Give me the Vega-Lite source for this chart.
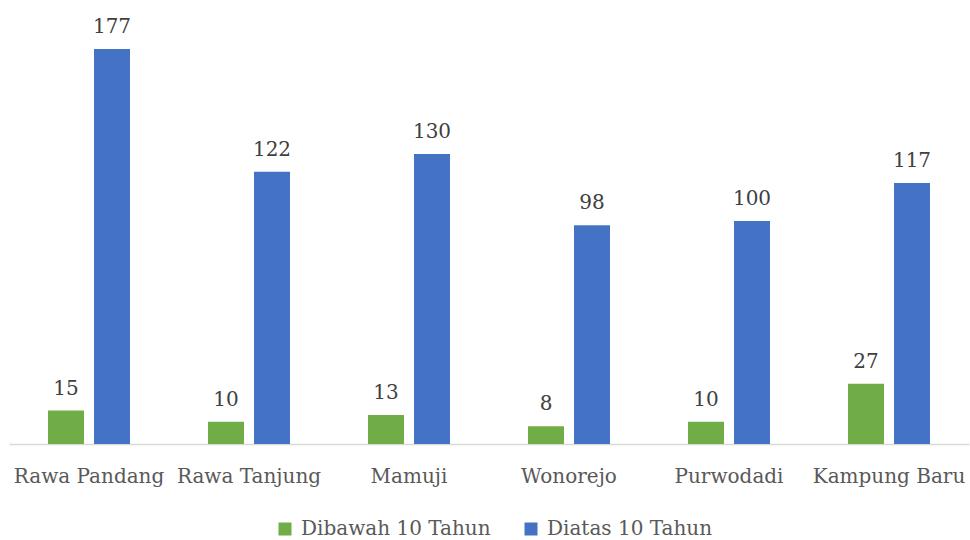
{
  "$schema": "https://vega.github.io/schema/vega-lite/v6.json",
  "autosize": "none",
  "width": 960,
  "height": 444,
  "padding": {"left": 9, "top": 0, "right": 1, "bottom": 96},
  "background": "white",
  "config": {"view": {"stroke": null}},
  "data": {
    "values": [
      {"desa": "Rawa Pandang", "kelompok": "Dibawah 10 Tahun", "jumlah": 15},
      {"desa": "Rawa Pandang", "kelompok": "Diatas 10 Tahun", "jumlah": 177},
      {"desa": "Rawa Tanjung", "kelompok": "Dibawah 10 Tahun", "jumlah": 10},
      {"desa": "Rawa Tanjung", "kelompok": "Diatas 10 Tahun", "jumlah": 122},
      {"desa": "Mamuji", "kelompok": "Dibawah 10 Tahun", "jumlah": 13},
      {"desa": "Mamuji", "kelompok": "Diatas 10 Tahun", "jumlah": 130},
      {"desa": "Wonorejo", "kelompok": "Dibawah 10 Tahun", "jumlah": 8},
      {"desa": "Wonorejo", "kelompok": "Diatas 10 Tahun", "jumlah": 98},
      {"desa": "Purwodadi", "kelompok": "Dibawah 10 Tahun", "jumlah": 10},
      {"desa": "Purwodadi", "kelompok": "Diatas 10 Tahun", "jumlah": 100},
      {"desa": "Kampung Baru", "kelompok": "Dibawah 10 Tahun", "jumlah": 27},
      {"desa": "Kampung Baru", "kelompok": "Diatas 10 Tahun", "jumlah": 117}
    ]
  },
  "encoding": {
    "x": {
      "field": "desa",
      "type": "nominal",
      "sort": null,
      "scale": {"paddingInner": 0.4875, "paddingOuter": 0.24375},
      "axis": {
        "title": null,
        "labelAngle": 0,
        "ticks": false,
        "domainColor": "#d9d9d9",
        "domainWidth": 1.5,
        "labelFont": "DejaVu Serif",
        "labelFontSize": 20,
        "labelColor": "#595959",
        "labelPadding": 22,
        "labelLimit": 0
      }
    },
    "xOffset": {
      "field": "kelompok",
      "type": "nominal",
      "sort": ["Dibawah 10 Tahun", "Diatas 10 Tahun"],
      "scale": {"paddingInner": 0.2174, "paddingOuter": 0}
    },
    "y": {
      "field": "jumlah",
      "type": "quantitative",
      "scale": {"domain": [0, 199], "nice": false},
      "axis": null
    }
  },
  "layer": [
    {
      "mark": {"type": "bar"},
      "encoding": {
        "color": {
          "field": "kelompok",
          "type": "nominal",
          "sort": ["Dibawah 10 Tahun", "Diatas 10 Tahun"],
          "scale": {
            "domain": ["Dibawah 10 Tahun", "Diatas 10 Tahun"],
            "range": ["#70ad47", "#4472c4"]
          },
          "legend": {
            "title": null,
            "orient": "none",
            "direction": "horizontal",
            "legendX": 266,
            "legendY": 519,
            "symbolType": "square",
            "symbolSize": 169,
            "symbolStrokeWidth": 0,
            "labelFont": "DejaVu Serif",
            "labelFontSize": 20,
            "labelColor": "#595959",
            "labelOffset": 6,
            "labelLimit": 0,
            "columnPadding": 30
          }
        }
      }
    },
    {
      "mark": {
        "type": "text",
        "baseline": "alphabetic",
        "dy": -16,
        "font": "DejaVu Serif",
        "fontSize": 20,
        "color": "#404040"
      },
      "encoding": {
        "text": {"field": "jumlah", "type": "quantitative"}
      }
    }
  ]
}
